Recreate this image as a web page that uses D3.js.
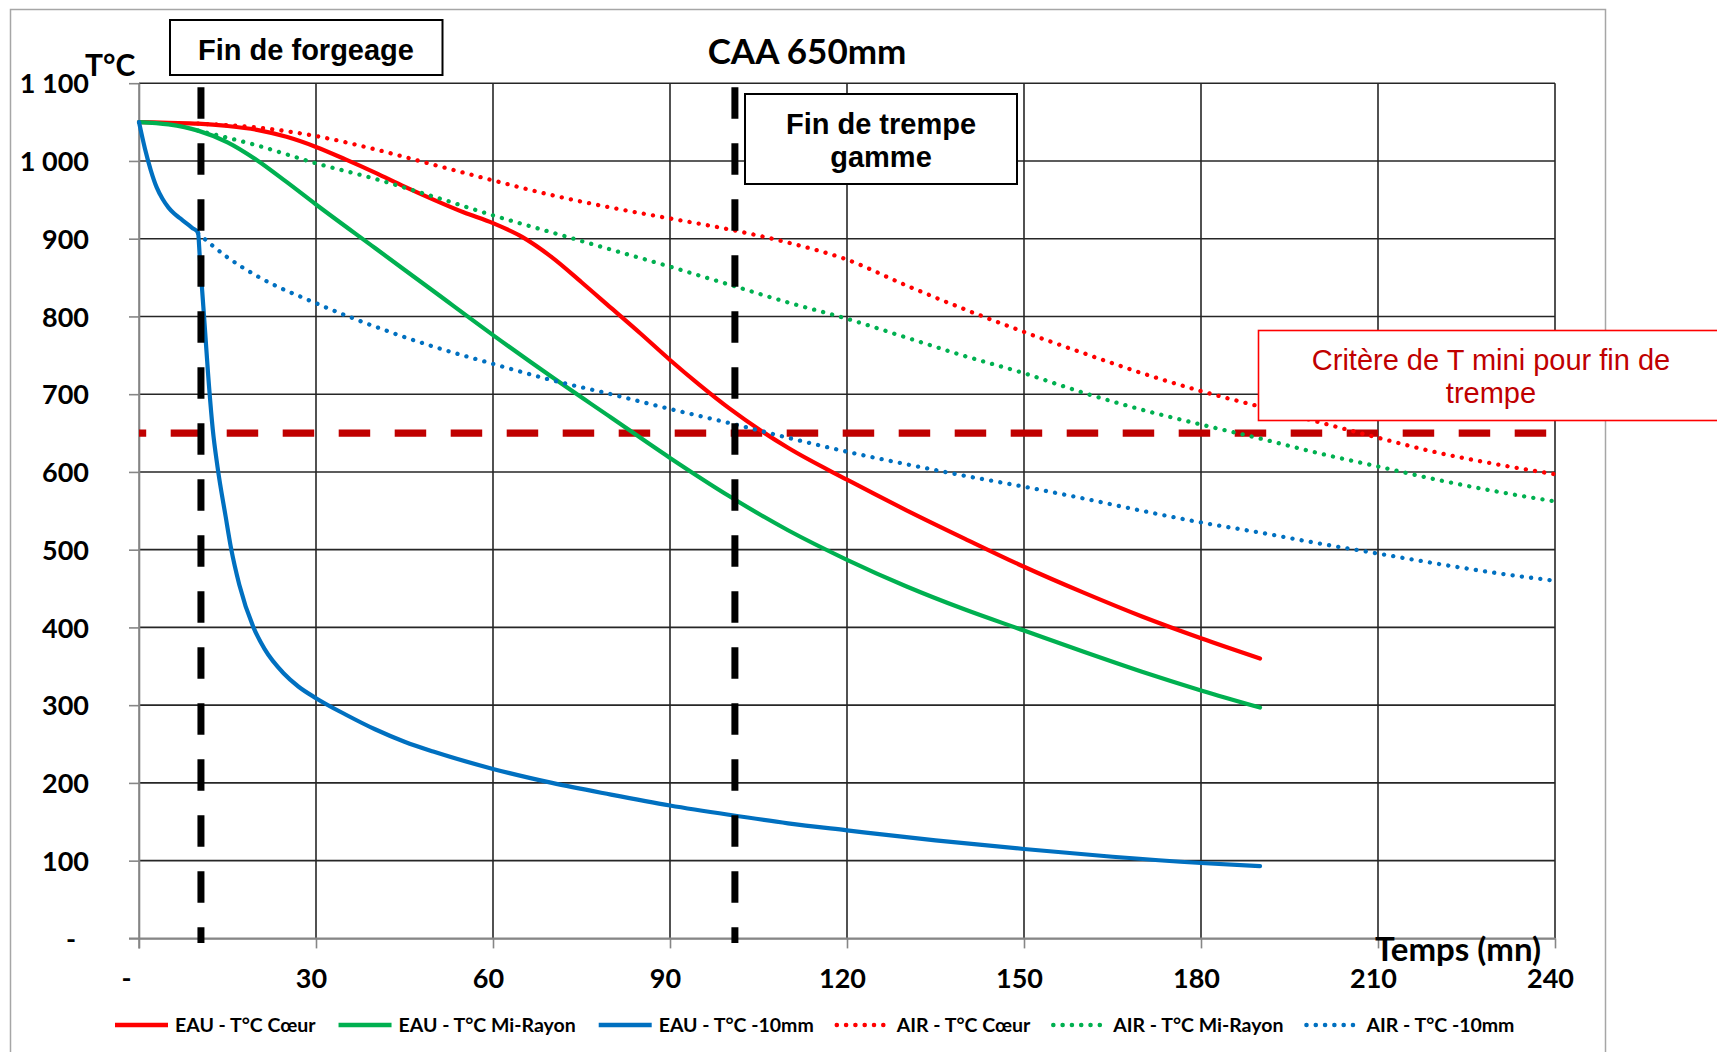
<!DOCTYPE html>
<html>
<head>
<meta charset="utf-8">
<script src="https://d3js.org/d3.v7.min.js"></script>
<title>CAA 650mm</title>
<style>
  body { margin: 0; background: #fff; }
  svg { display: block; }
  .tick text { font-family: Lato, "Open Sans", sans-serif; font-weight: bold; fill: #000; }
</style>
</head>
<body>
<div id="chart"></div>
<script>
// temps (mn), T°C
var eauCoeur = [[0,1050],[5,1049],[10,1048],[15,1045],[20,1040],[25,1031],[30,1018],[35,1002],[40,985],
  [45,967],[50,950],[55,934],[60,920],[65,902],[70,876],[75,844],[80,811],[85,778],[90,744],[95,712],
  [100,682],[110,631],[120,590],[130,551],[140,514],[150,478],[160,445],[170,414],[180,386],[190,360]];
var eauMiRayon = [[0,1050],[5,1047],[10,1039],[15,1024],[20,1001],[25,973],[30,944],[40,888],[50,832],
  [60,776],[70,722],[80,670],[90,618],[100,569],[110,525],[120,487],[130,453],[140,423],[150,396],
  [160,369],[170,343],[180,319],[190,297]];
var eau10mm = [[0,1050],[1,1016],[2,988],[3,966],[4,951],[5,940],[6,932],[7,926],[8,920],[9,914],[10,908],
  [10.3,877],[10.7,834],[11.1,792],[11.7,727],[12.5,655],[13.3,607],[14.7,542],[15.6,502],[17,455],
  [19.4,400],[21.3,372],[24.5,341],[27,324],[30,309],[35,288],[40,269],[45,253],[50,240],[60,218],
  [70,200],[80,185],[90,171],[100,159],[110,148],[120,139],[135,126],[150,115],[165,105],[180,97],[190,93]];
var airCoeur = [[10,1048],[20,1043],[30,1032],[40,1015],[50,995],[60,975],[70,956],[80,940],[90,926],
  [100,912],[110,895],[120,873],[130,840],[140,809],[150,780],[160,753],[170,727],[180,704],[190,684],
  [200,664],[210,644],[220,625],[230,610],[240,597]];
var airMiRayon = [[10,1039],[20,1020],[30,997],[40,977],[50,954],[60,930],[70,908],[80,886],[90,864],
  [100,841],[110,818],[120,797],[130,773],[140,749],[150,727],[160,702],[170,680],[180,661],[190,643],
  [200,624],[210,607],[220,590],[230,575],[240,562]];
var air10mm = [[10,907],[15,876],[20,852],[30,817],[40,787],[50,761],[60,739],[70,718],[80,700],[90,681],
  [100,663],[110,644],[120,626],[130,610],[140,595],[150,581],[160,566],[170,550],[180,535],[190,522],
  [200,508],[210,495],[220,482],[230,470],[240,460]];

var seriesNames = ["EAU - T°C Cœur", "EAU - T°C Mi-Rayon", "EAU - T°C -10mm",
                   "AIR - T°C Cœur", "AIR - T°C Mi-Rayon", "AIR - T°C -10mm"];
var seriesColors = ["#ff0000", "#00b050", "#0070c0", "#ff0000", "#00b050", "#0070c0"];
var seriesDotted = [false, false, false, true, true, true];

var xTicks = [0, 30, 60, 90, 120, 150, 180, 210, 240];
var yTicks = [0, 100, 200, 300, 400, 500, 600, 700, 800, 900, 1000, 1100];

var finForgeage = 10.5;   // mn
var finTrempe = 101;      // mn
var tMini = 650;          // °C

const W = 1717, H = 1052;
const plot = { left: 139, right: 1555, top: 83.2, bottom: 938.4 };

var x = d3.scaleLinear().domain([0, 240]).range([plot.left, plot.right]);
var y = d3.scaleLinear().domain([0, 1100]).range([plot.bottom, plot.top]);

var svg = d3.select("#chart").append("svg")
  .attr("width", W).attr("height", H);

// chart frame
svg.append("rect")
  .attr("x", 10.5).attr("y", 9.5)
  .attr("width", 1595).attr("height", 1100)
  .attr("fill", "#fff").attr("stroke", "#a6a6a6").attr("stroke-width", 1.5);

// grid
svg.append("g").selectAll("line")
  .data(yTicks.filter(d => d > 0))
  .enter().append("line")
  .attr("x1", plot.left).attr("x2", plot.right)
  .attr("y1", d => y(d)).attr("y2", d => y(d))
  .attr("stroke", "#262626").attr("stroke-width", 1.6);
svg.append("g").selectAll("line")
  .data(xTicks.filter(d => d > 0))
  .enter().append("line")
  .attr("x1", d => x(d)).attr("x2", d => x(d))
  .attr("y1", plot.top).attr("y2", plot.bottom)
  .attr("stroke", "#262626").attr("stroke-width", 1.6);

// axes
var frFormat = d3.formatLocale({ decimal: ",", thousands: " ", grouping: [3], currency: ["", ""] }).format(",d");

var yAxis = svg.append("g")
  .attr("transform", "translate(" + plot.left + ",0)")
  .call(d3.axisLeft(y).tickValues(yTicks).tickSize(10).tickSizeOuter(0).tickPadding(40)
    .tickFormat(d => d === 0 ? "-" : frFormat(d)));
var xAxis = svg.append("g")
  .attr("transform", "translate(0," + plot.bottom + ")")
  .call(d3.axisBottom(x).tickValues(xTicks).tickSize(10).tickSizeOuter(0).tickPadding(20)
    .tickFormat(d => d === 0 ? "-" : d));

[yAxis, xAxis].forEach(function(a) {
  a.select(".domain").attr("stroke", "#868686").attr("stroke-width", 1.6);
  a.selectAll(".tick line").attr("stroke", "#868686").attr("stroke-width", 1.6);
  a.selectAll(".tick text").style("font-size", "27px");
});
yAxis.selectAll(".tick text").attr("dy", "0.36em")
  .attr("dx", d => d === 0 ? -13 : 0);
xAxis.selectAll(".tick text").attr("dx", d => d === 0 ? -13 : -5);

// y axis line down to x tick length, like excel
svg.append("line")
  .attr("x1", plot.left).attr("x2", plot.left)
  .attr("y1", plot.top).attr("y2", plot.bottom + 10)
  .attr("stroke", "#868686").attr("stroke-width", 1.6);
svg.append("line")
  .attr("x1", plot.left - 10).attr("x2", plot.right)
  .attr("y1", plot.bottom).attr("y2", plot.bottom)
  .attr("stroke", "#868686").attr("stroke-width", 1.6);

// critère 650
svg.append("line")
  .attr("x1", x(0)).attr("x2", x(240))
  .attr("y1", y(tMini)).attr("y2", y(tMini))
  .attr("stroke", "#c00000").attr("stroke-width", 7.2)
  .attr("stroke-dasharray", "31.5 24.5").attr("stroke-dashoffset", 24.3);

// curves
var allSeries = [eauCoeur, eauMiRayon, eau10mm, airCoeur, airMiRayon, air10mm];
var line = d3.line()
  .x(d => x(d[0])).y(d => y(d[1]))
  .curve(d3.curveMonotoneX);

svg.append("g").selectAll("path")
  .data(allSeries)
  .enter().append("path")
  .attr("d", line)
  .attr("fill", "none")
  .attr("stroke", (d, i) => seriesColors[i])
  .attr("stroke-width", (d, i) => seriesDotted[i] ? 4.3 : 4.2)
  .attr("stroke-linecap", "round")
  .attr("stroke-linejoin", "round")
  .attr("stroke-dasharray", (d, i) => seriesDotted[i] ? "0.1 9.2" : null);

// fin de forgeage / fin de trempe
svg.append("g").selectAll("line")
  .data([finForgeage, finTrempe])
  .enter().append("line")
  .attr("x1", d => x(d)).attr("x2", d => x(d))
  .attr("y1", plot.top + 4).attr("y2", plot.bottom + 4.5)
  .attr("stroke", "#000").attr("stroke-width", 7)
  .attr("stroke-dasharray", "31.5 24.5");

// text boxes
function box(x0, y0, w, h, border, bw) {
  svg.append("rect").attr("x", x0).attr("y", y0).attr("width", w).attr("height", h)
    .attr("fill", "#fff").attr("stroke", border).attr("stroke-width", bw);
}
function label(txt, cx, by, size, weight, color) {
  svg.append("text").attr("x", cx).attr("y", by)
    .attr("text-anchor", "middle")
    .style("font-family", "'Liberation Sans', Arial, sans-serif")
    .style("font-size", size + "px").style("font-weight", weight)
    .attr("fill", color).text(txt);
}
box(170, 20, 272.5, 55, "#000", 2);
label("Fin de forgeage", 306, 59.5, 29, "bold", "#000");
box(745, 94, 272, 90, "#000", 2);
label("Fin de trempe", 881, 133.5, 29, "bold", "#000");
label("gamme", 881, 166.5, 29, "bold", "#000");
box(1258.5, 330.5, 465, 90, "#ff0000", 1.6);
label("Critère de T mini pour fin de", 1491, 369.5, 29, "normal", "#c00000");
label("trempe", 1491, 402.5, 29, "normal", "#c00000");

// titles
var calib = "Lato, 'Open Sans', sans-serif";
svg.append("text").attr("x", 807).attr("y", 63.5).attr("text-anchor", "middle")
  .style("font-family", calib).style("font-weight", "bold").style("font-size", "35px")
  .text("CAA 650mm");
svg.append("text").attr("x", 85).attr("y", 76)
  .style("font-family", calib).style("font-weight", "bold").style("font-size", "30px")
  .text("T°C");
svg.append("text").attr("x", 1541).attr("y", 961).attr("text-anchor", "end")
  .style("font-family", calib).style("font-weight", "bold").style("font-size", "33px")
  .text("Temps (mn)");

// legend
var legend = svg.append("g");
var lx = 113, ly = 1025;
seriesNames.forEach(function(name, i) {
  legend.append("line")
    .attr("x1", lx + 2).attr("x2", lx + 55).attr("y1", ly).attr("y2", ly)
    .attr("stroke", seriesColors[i]).attr("stroke-width", 4.5)
    .attr("stroke-linecap", seriesDotted[i] ? "round" : "butt")
    .attr("stroke-dasharray", seriesDotted[i] ? "0.1 9.2" : null);
  var t = legend.append("text")
    .attr("x", lx + 62).attr("y", ly + 7)
    .style("font-family", calib).style("font-weight", "bold").style("font-size", "19.5px")
    .text(name);
  lx = lx + 62 + t.node().getComputedTextLength() + 21;
});
</script>
</body>
</html>
